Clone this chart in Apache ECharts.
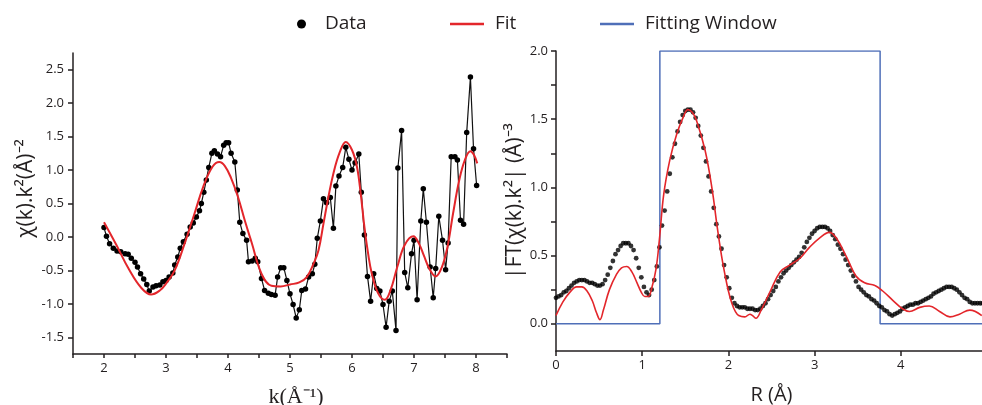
<!DOCTYPE html>
<html><head><meta charset="utf-8">
<script src="https://cdn.jsdelivr.net/npm/echarts@6/dist/echarts.min.js"></script>
<style>html,body{margin:0;padding:0;background:#fff}#c{width:982px;height:405px}</style>
</head><body><div id="c"></div>
<script>
// ---- left panel: chi(k) data ----
const kData = [2.00,2.04,2.09,2.15,2.21,2.27,2.34,2.39,2.44,2.50,2.54,2.59,2.64,2.69,2.73,2.79,2.84,2.90,2.95,3.00,
3.05,3.11,3.14,3.19,3.23,3.28,3.34,3.39,3.44,3.49,3.54,3.57,3.61,3.65,3.69,3.74,3.78,3.83,3.88,3.93,
3.97,4.01,4.05,4.11,4.15,4.19,4.24,4.30,4.33,4.39,4.44,4.48,4.54,4.59,4.65,4.70,4.76,4.80,4.85,4.90,
4.95,5.00,5.05,5.10,5.15,5.19,5.25,5.30,5.36,5.40,5.44,5.49,5.54,5.59,5.65,5.70,5.74,5.79,5.85,5.90,
5.95,6.00,6.05,6.11,6.15,6.20,6.25,6.30,6.35,6.40,6.45,6.50,6.55,6.60,6.65,6.71,6.74,6.80,6.85,6.90,
6.96,7.00,7.05,7.11,7.15,7.20,7.26,7.31,7.35,7.40,7.46,7.51,7.55,7.60,7.66,7.70,7.75,7.80,7.85,7.91,
7.96,8.01];
const chiData = [0.14,0.01,-0.10,-0.17,-0.21,-0.22,-0.25,-0.26,-0.32,-0.38,-0.45,-0.55,-0.63,-0.71,-0.81,-0.75,-0.73,-0.72,-0.67,-0.65,
-0.60,-0.54,-0.42,-0.30,-0.17,-0.07,0.04,0.15,0.21,0.30,0.39,0.50,0.67,0.85,1.04,1.25,1.29,1.24,1.20,1.37,
1.41,1.41,1.25,1.12,0.70,0.22,0.05,-0.05,-0.37,-0.36,-0.32,-0.37,-0.62,-0.80,-0.84,-0.86,-0.87,-0.60,-0.46,-0.46,
-0.65,-0.85,-1.01,-1.21,-1.09,-0.80,-0.78,-0.60,-0.55,-0.41,-0.02,0.24,0.57,0.51,0.59,0.13,0.76,0.91,1.04,1.34,
1.16,1.00,1.11,1.24,0.67,0.03,-0.59,-0.96,-0.55,-0.77,-0.81,-1.01,-1.35,-0.96,-0.81,-1.40,1.03,1.59,-0.53,-0.76,
-0.25,-0.05,-0.94,0.24,0.72,0.22,-0.45,-0.91,-0.47,0.31,-0.05,-0.49,-0.09,1.20,1.20,1.15,0.25,0.19,1.56,2.39,
1.32,0.77];
// ---- left panel: fit ----
const kFit = [2.00,2.20,2.40,2.60,2.76,2.90,3.00,3.14,3.30,3.46,3.60,3.75,3.86,3.95,4.05,4.16,4.27,4.38,4.54,4.70,
4.85,5.00,5.15,5.27,5.38,5.46,5.54,5.62,5.70,5.80,5.90,6.00,6.08,6.14,6.20,6.26,6.32,6.42,6.53,6.62,
6.73,6.85,6.99,7.08,7.16,7.25,7.35,7.45,7.54,7.63,7.73,7.82,7.91,7.97,8.02];
const chiFit = [0.22,-0.12,-0.48,-0.76,-0.86,-0.80,-0.70,-0.50,-0.10,0.35,0.75,1.05,1.12,1.06,0.88,0.60,0.25,-0.08,-0.55,-0.73,
-0.74,-0.71,-0.68,-0.60,-0.40,-0.20,0.20,0.60,0.95,1.26,1.42,1.30,1.05,0.65,0.15,-0.25,-0.55,-0.84,-0.94,-0.80,
-0.45,-0.12,0.01,-0.10,-0.28,-0.48,-0.59,-0.45,-0.15,0.35,0.85,1.15,1.28,1.22,1.10];
// ---- right panel: |FT| data ----
const rData = [0.00,0.03,0.06,0.09,0.12,0.15,0.18,0.21,0.24,0.27,
0.30,0.33,0.36,0.39,0.42,0.45,0.48,0.51,0.54,0.57,
0.60,0.63,0.66,0.69,0.72,0.75,0.78,0.81,0.84,0.87,
0.90,0.93,0.96,0.99,1.02,1.05,1.08,1.11,1.14,1.17,
1.20,1.23,1.26,1.29,1.32,1.35,1.38,1.41,1.44,1.47,
1.50,1.53,1.56,1.59,1.62,1.65,1.68,1.71,1.74,1.77,
1.80,1.83,1.86,1.89,1.92,1.95,1.98,2.01,2.04,2.07,
2.10,2.13,2.16,2.19,2.22,2.25,2.28,2.31,2.34,2.37,
2.40,2.43,2.46,2.49,2.52,2.55,2.58,2.61,2.64,2.67,
2.70,2.73,2.76,2.79,2.82,2.85,2.88,2.91,2.94,2.97,
3.00,3.03,3.06,3.09,3.12,3.15,3.18,3.21,3.24,3.27,
3.30,3.33,3.36,3.39,3.42,3.45,3.48,3.51,3.54,3.57,
3.60,3.63,3.66,3.69,3.72,3.75,3.78,3.81,3.84,3.87,
3.90,3.93,3.96,3.99,4.02,4.05,4.08,4.11,4.14,4.17,
4.20,4.23,4.26,4.29,4.32,4.35,4.38,4.41,4.44,4.47,
4.50,4.53,4.56,4.59,4.62,4.65,4.68,4.71,4.74,4.77,
4.80,4.83,4.86,4.89,4.92,4.95];
const ftData = [0.19,0.20,0.21,0.23,0.24,0.26,0.28,0.30,0.31,0.32,
0.32,0.32,0.31,0.30,0.30,0.29,0.28,0.28,0.29,0.32,
0.36,0.41,0.46,0.51,0.54,0.57,0.59,0.59,0.59,0.57,
0.54,0.48,0.41,0.34,0.27,0.23,0.21,0.25,0.32,0.42,
0.56,0.72,0.83,0.97,1.10,1.22,1.32,1.41,1.48,1.53,
1.56,1.57,1.57,1.55,1.51,1.45,1.38,1.29,1.19,1.08,
0.97,0.85,0.73,0.64,0.55,0.43,0.34,0.26,0.19,0.15,
0.13,0.12,0.12,0.12,0.11,0.11,0.11,0.10,0.10,0.11,
0.13,0.15,0.18,0.21,0.24,0.27,0.31,0.34,0.37,0.39,
0.41,0.43,0.45,0.47,0.49,0.52,0.56,0.60,0.63,0.66,
0.68,0.70,0.71,0.71,0.71,0.70,0.68,0.65,0.62,0.58,
0.55,0.51,0.47,0.43,0.39,0.35,0.31,0.27,0.25,0.23,
0.21,0.20,0.18,0.17,0.15,0.13,0.12,0.10,0.09,0.07,
0.06,0.07,0.08,0.09,0.11,0.12,0.13,0.14,0.14,0.15,
0.15,0.16,0.17,0.18,0.19,0.20,0.22,0.23,0.24,0.25,
0.26,0.27,0.27,0.27,0.26,0.25,0.23,0.21,0.19,0.18,
0.16,0.15,0.15,0.15,0.15,0.15];
// ---- right panel: fit ----
const rFit = [0.00,0.08,0.16,0.24,0.30,0.36,0.42,0.47,0.51,0.55,0.62,0.70,0.76,0.82,0.88,0.94,0.99,1.03,1.07,1.11,
1.16,1.20,1.25,1.32,1.40,1.48,1.53,1.58,1.63,1.73,1.81,1.87,1.92,1.96,2.00,2.04,2.08,2.12,2.19,2.25,
2.28,2.32,2.38,2.48,2.60,2.71,2.83,2.94,3.06,3.17,3.25,3.37,3.48,3.58,3.70,3.79,3.91,4.02,4.10,4.22,
4.33,4.45,4.57,4.68,4.80,4.94];
const ftFit = [0.06,0.16,0.23,0.27,0.27,0.24,0.17,0.08,0.03,0.10,0.25,0.36,0.41,0.42,0.38,0.30,0.23,0.20,0.20,0.26,
0.40,0.62,0.95,1.20,1.39,1.52,1.57,1.55,1.49,1.27,0.99,0.71,0.50,0.36,0.24,0.15,0.09,0.06,0.05,0.07,
0.06,0.04,0.10,0.23,0.38,0.43,0.48,0.56,0.63,0.67,0.63,0.49,0.35,0.30,0.28,0.24,0.17,0.11,0.09,0.12,
0.13,0.09,0.05,0.07,0.10,0.06];
// ---- fitting window ----
const winR = [0, 1.205, 1.205, 3.76, 3.76, 5];
const winY = [0, 0, 2, 2, 0, 0];
// ---- ticks ----
const leftXTicks = [1.5,2,2.5,3,3.5,4,4.5,5,5.5,6,6.5,7,7.5,8,8.5];
const leftXLabels = [2,3,4,5,6,7,8];
const leftYLabels = [-1.5,-1,-0.5,0,0.5,1,1.5,2,2.5];
const rightYLabels = [0,0.5,1,1.5,2];
const rightYTicks = [0,0.25,0.5,0.75,1,1.25,1.5,1.75,2];

const zip = (a, b) => a.map((v, i) => [v, b[i]]);
const INK = '#231f20', RED = '#e3262b', BLUE = '#4f6fb8';
const SANS = '"Open Sans", sans-serif';
const axLine = { onZero: false, lineStyle: { color: INK, width: 1.5 } };
const lblStyle = { color: INK, fontSize: 13, fontFamily: SANS };

const chart = echarts.init(document.getElementById('c'));
const txt = (pad) => ({ fontSize: 19, color: INK, fontFamily: SANS, lineHeight: 22, padding: [0, 0, 0, pad] });
chart.setOption({
  animation: false,
  backgroundColor: '#fff',
  legend: [
    { top: 13, left: 297, padding: 0, itemWidth: 9, itemHeight: 9, textStyle: txt(14), data: [{ name: 'Data', icon: 'circle' }] },
    { top: 13, left: 450, padding: 0, itemWidth: 34, itemHeight: 2.5, textStyle: txt(6), data: [{ name: 'Fit', icon: 'rect' }] },
    { top: 13, left: 600, padding: 0, itemWidth: 34, itemHeight: 2.5, textStyle: txt(6), data: [{ name: 'Fitting Window', icon: 'rect' }] }
  ],
  grid: [
    { left: 73, top: 53, width: 434, height: 301, outerBoundsMode: 'none' },
    { left: 556, top: 51, width: 431, height: 300, outerBoundsMode: 'none' }
  ],
  xAxis: [
    { type: 'value', gridIndex: 0, min: 1.5, max: 8.5,
      name: 'k(Å⁻¹)', nameLocation: 'middle', nameGap: 32,
      nameTextStyle: { fontSize: 22, color: INK, fontFamily: '"Liberation Serif", serif', padding: [0, 0, 0, 12] },
      axisLine: axLine, splitLine: { show: false },
      axisTick: { customValues: leftXTicks, length: 4, lineStyle: { color: INK, width: 1.5 } },
      axisLabel: Object.assign({ customValues: leftXLabels, margin: 8, formatter: v => String(v) }, lblStyle) },
    { type: 'value', gridIndex: 1, min: 0, max: 5, interval: 1,
      name: 'R (Å)', nameLocation: 'middle', nameGap: 34,
      nameTextStyle: { fontSize: 20, color: INK, fontFamily: SANS },
      axisLine: axLine, splitLine: { show: false },
      axisTick: { length: 5, lineStyle: { color: INK, width: 1.5 } },
      axisLabel: Object.assign({ margin: 8, formatter: v => String(v) }, lblStyle) }
  ],
  yAxis: [
    { type: 'value', gridIndex: 0, min: -1.75, max: 2.75,
      name: 'χ(k).k²(Å)⁻²', nameLocation: 'middle', nameGap: 36,
      nameTextStyle: { fontSize: 21, color: INK, fontFamily: SANS, padding: [0, 0, 0, 30] },
      axisLine: axLine, splitLine: { show: false },
      axisTick: { customValues: leftYLabels, length: 5, lineStyle: { color: INK, width: 1.5 } },
      axisLabel: Object.assign({ customValues: leftYLabels, margin: 9, formatter: v => v.toFixed(1) }, lblStyle) },
    { type: 'value', gridIndex: 1, min: -0.2, max: 2,
      name: '|FT(χ(k).k²| (Å)⁻³', nameLocation: 'middle', nameGap: 28,
      nameTextStyle: { fontSize: 21, color: INK, fontFamily: SANS },
      axisLine: axLine, splitLine: { show: false },
      axisTick: { customValues: rightYTicks, length: 5, lineStyle: { color: INK, width: 1.5 } },
      axisLabel: Object.assign({ customValues: rightYLabels, margin: 8, formatter: v => v.toFixed(1) }, lblStyle) }
  ],
  series: [
    { name: 'Data', type: 'line', xAxisIndex: 0, yAxisIndex: 0, data: zip(kData, chiData),
      symbol: 'circle', symbolSize: 5.5, color: '#000', lineStyle: { color: '#111', width: 1.2 }, itemStyle: { color: '#000' }, z: 2 },
    { name: 'Fit', type: 'line', xAxisIndex: 0, yAxisIndex: 0, data: zip(kFit, chiFit),
      smooth: 0.4, showSymbol: false, symbol: 'none', color: RED, lineStyle: { color: RED, width: 2 }, z: 3 },
    { name: 'Fitting Window', type: 'line', xAxisIndex: 1, yAxisIndex: 1, data: zip(winR, winY),
      showSymbol: false, symbol: 'none', color: BLUE, lineStyle: { color: BLUE, width: 1.5 }, z: 1 },
    { name: 'Data', type: 'scatter', xAxisIndex: 1, yAxisIndex: 1, data: zip(rData, ftData),
      symbol: 'circle', symbolSize: 4.8, itemStyle: { color: '#000' }, z: 2 },
    { name: 'Fit', type: 'line', xAxisIndex: 1, yAxisIndex: 1, data: zip(rFit, ftFit),
      smooth: 0.4, showSymbol: false, symbol: 'none', color: RED, lineStyle: { color: RED, width: 1.6 }, z: 3 }
  ]
});
</script></body></html>
